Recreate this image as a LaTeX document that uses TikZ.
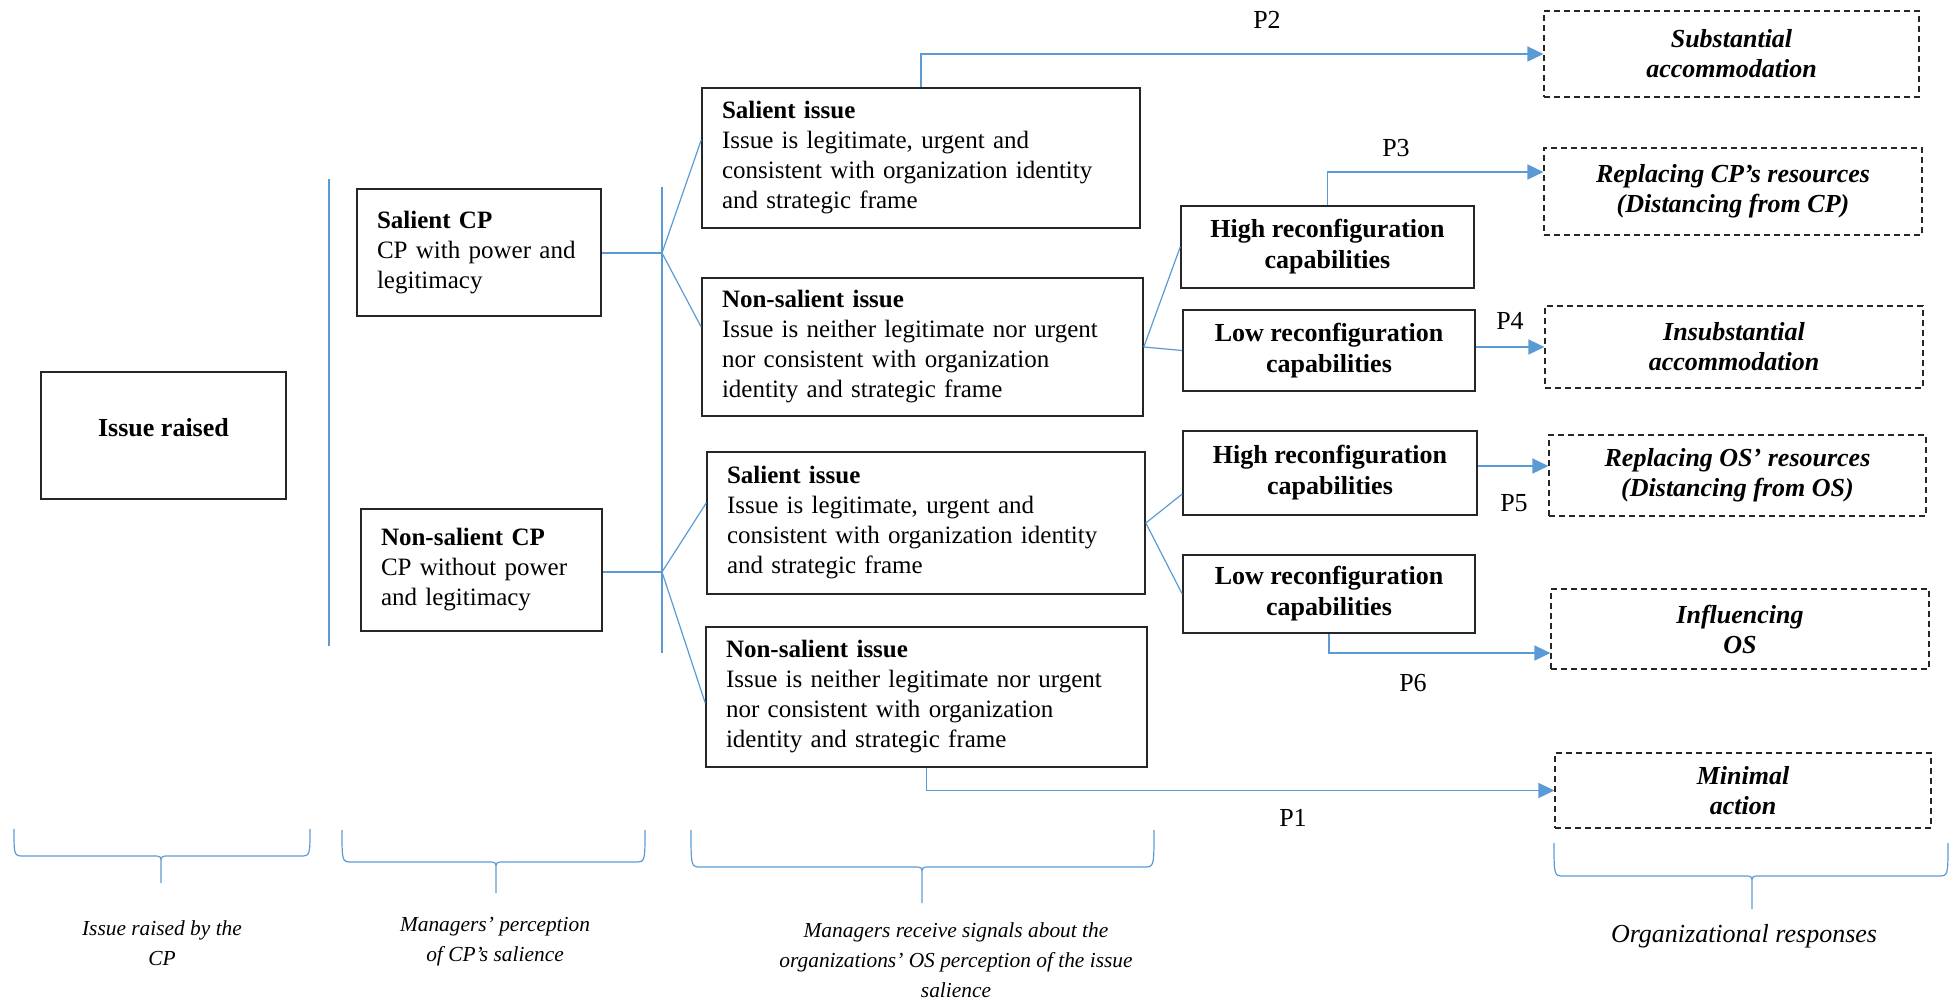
\documentclass[tikz,border=0pt]{standalone}
\usepackage{fontspec}
\setmainfont{Liberation Serif}
\usetikzlibrary{arrows.meta,calc}
\definecolor{lblue}{RGB}{91,155,213}
\begin{document}
\begin{tikzpicture}[x=0.5pt,y=-0.5pt,
  lbox/.style={draw=black!85, line width=0.8pt, inner xsep=10pt, inner ysep=2pt, align=left, font=\fontsize{12.5}{15}\selectfont},
  cbox/.style={draw=black!85, line width=0.8pt, inner sep=2pt, align=center, font=\fontsize{13}{15.5}\selectfont\bfseries},
  rbox/.style={draw=black!85, line width=0.6pt, dash pattern=on 3pt off 2pt, inner sep=2pt, align=center, font=\fontsize{13}{15}\selectfont\bfseries\itshape},
  conn/.style={draw=lblue, line width=0.6pt},
  arr/.style={draw=lblue, line width=0.8pt, -{Triangle[length=8pt,width=7.5pt]}},
  plab/.style={font=\fontsize{13}{15}\selectfont},
  blab/.style={align=center, font=\fontsize{10.7}{15}\selectfont\itshape},
  bracepath/.style={draw=lblue, line width=0.6pt},
]
\useasboundingbox (0,0) rectangle (1959,1002);

% left column
\node[cbox, minimum width=122.5pt, minimum height=63.5pt, text height=9pt, text depth=8pt] (isr) at (163.5,435.5) {Issue raised};

\node[lbox, text width=102pt, minimum height=63.5pt] (scp) at (479,252.5) {\textbf{Salient CP}\\CP with power and\\legitimacy};
\node[lbox, text width=100.5pt, minimum height=61pt] (ncp) at (481.5,570) {\textbf{Non-salient CP}\\CP without power\\and legitimacy};

% issue boxes
\node[lbox, text width=199pt, minimum height=70pt] (si1) at (921,158) {\textbf{Salient issue}\\Issue is legitimate, urgent and\\consistent with organization identity\\and strategic frame};
\node[lbox, text width=200.5pt, minimum height=69pt] (ni1) at (922.5,347) {\textbf{Non-salient issue}\\Issue is neither legitimate nor urgent\\nor consistent with organization\\identity and strategic frame};
\node[lbox, text width=199pt, minimum height=71pt] (si2) at (926,523) {\textbf{Salient issue}\\Issue is legitimate, urgent and\\consistent with organization identity\\and strategic frame};
\node[lbox, text width=200.5pt, minimum height=70pt] (ni2) at (926.5,697) {\textbf{Non-salient issue}\\Issue is neither legitimate nor urgent\\nor consistent with organization\\identity and strategic frame};

% capability boxes
\node[cbox, minimum width=146.5pt, minimum height=41pt] (hr1) at (1327.5,247) {High reconfiguration\\capabilities};
\node[cbox, minimum width=146pt, minimum height=40.5pt] (lr1) at (1329,350.5) {Low reconfiguration\\capabilities};
\node[cbox, minimum width=147pt, minimum height=42pt] (hr2) at (1330,473) {High reconfiguration\\capabilities};
\node[cbox, minimum width=146pt, minimum height=39pt] (lr2) at (1329,594) {Low reconfiguration\\capabilities};

% responses
\node[rbox, minimum width=187.5pt, minimum height=43pt] (r1) at (1731.5,54) {Substantial\\accommodation};
\node[rbox, minimum width=189pt, minimum height=43.5pt] (r2) at (1733,191.5) {Replacing CP’s resources\\(Distancing from CP)};
\node[rbox, minimum width=189pt, minimum height=41pt] (r3) at (1734,347) {Insubstantial\\accommodation};
\node[rbox, minimum width=188.5pt, minimum height=40.5pt] (r4) at (1737.5,475.5) {Replacing OS’ resources\\(Distancing from OS)};
\node[rbox, minimum width=189pt, minimum height=40pt] (r5) at (1740,629) {Influencing\\OS};
\node[rbox, minimum width=188pt, minimum height=37.5pt] (r6) at (1743,790.5) {Minimal\\action};

% vertical separators
\coordinate (v1a) at (329,179);
\coordinate (v1b) at (329,646);
\coordinate (v2a) at (662,187);
\coordinate (v2b) at (662,653);
\draw[conn] (v1a) -- (v1b);
\draw[conn] (v2a) -- (v2b);

% fan connectors
\coordinate (j1) at (662,253);
\coordinate (j2) at (662,572);
\draw[conn] (scp.east |- j1) -- (j1);
\draw[conn] (j1) -- ([yshift=9pt]si1.west);
\draw[conn] (j1) -- ([yshift=10pt]ni1.west);
\draw[conn] (ncp.east |- j2) -- (j2);
\draw[conn] (j2) -- ([yshift=10pt]si2.west);
\draw[conn] (j2) -- ([yshift=-3pt]ni2.west);
\draw[conn] (ni1.east) -- (hr1.west);
\draw[conn] (ni1.east) -- (lr1.west);
\draw[conn] (si2.east) -- ([yshift=-10.5pt]hr2.west);
\draw[conn] (si2.east) -- (lr2.west);

% arrows
\draw[arr] (si1.north) |- (r1.west);
\draw[arr] (hr1.north) |- ([yshift=9.75pt]r2.west);
\draw[arr] (lr1.east |- r3.west) -- (r3.west);
\coordinate (p5s) at ([yshift=3.5pt]hr2.east);
\draw[arr] (p5s) -- (p5s -| r4.west);
\draw[arr] (lr2.south) |- ([yshift=-12pt]r5.west);
\draw[arr] (ni2.south) |- (r6.west);

% P labels
\node[plab] (p2) at (1267,20) {P2};
\node[plab] (p3) at (1396,148) {P3};
\node[plab] (p4) at (1510,321) {P4};
\node[plab] (p5) at (1514,503) {P5};
\node[plab] (p6) at (1413,683) {P6};
\node[plab] (p1) at (1293,818) {P1};

% braces
\foreach \xa/\xb/\xc/\yt/\yh/\yp in {14/310/161/829/856/883, 342/645/496/830/862/893, 691/1154/922/830/867/903, 1554/1948/1752/843/876/909}{
  \draw[bracepath] (\xa,\yt) .. controls (\xa,\yh) and (\xa,\yh) .. (\xa+10,\yh) -- (\xc-8,\yh) .. controls (\xc,\yh) .. (\xc,\yh+8) -- (\xc,\yp) -- (\xc,\yh+8) .. controls (\xc,\yh) .. (\xc+8,\yh) -- (\xb-10,\yh) .. controls (\xb,\yh) and (\xb,\yh) .. (\xb,\yt);
}

% bottom labels
\node[blab] (l1) at (162,943) {Issue raised by the\\CP};
\node[blab] (l2) at (495,942) {Managers’ perception\\of CP’s salience};
\node[blab] (l3) at (956,960) {Managers receive signals about the\\organizations’ OS perception of the issue\\salience};
\node[blab, font=\fontsize{13}{15}\selectfont\itshape] (l4) at (1744,936) {Organizational responses};
\end{tikzpicture}
\end{document}
